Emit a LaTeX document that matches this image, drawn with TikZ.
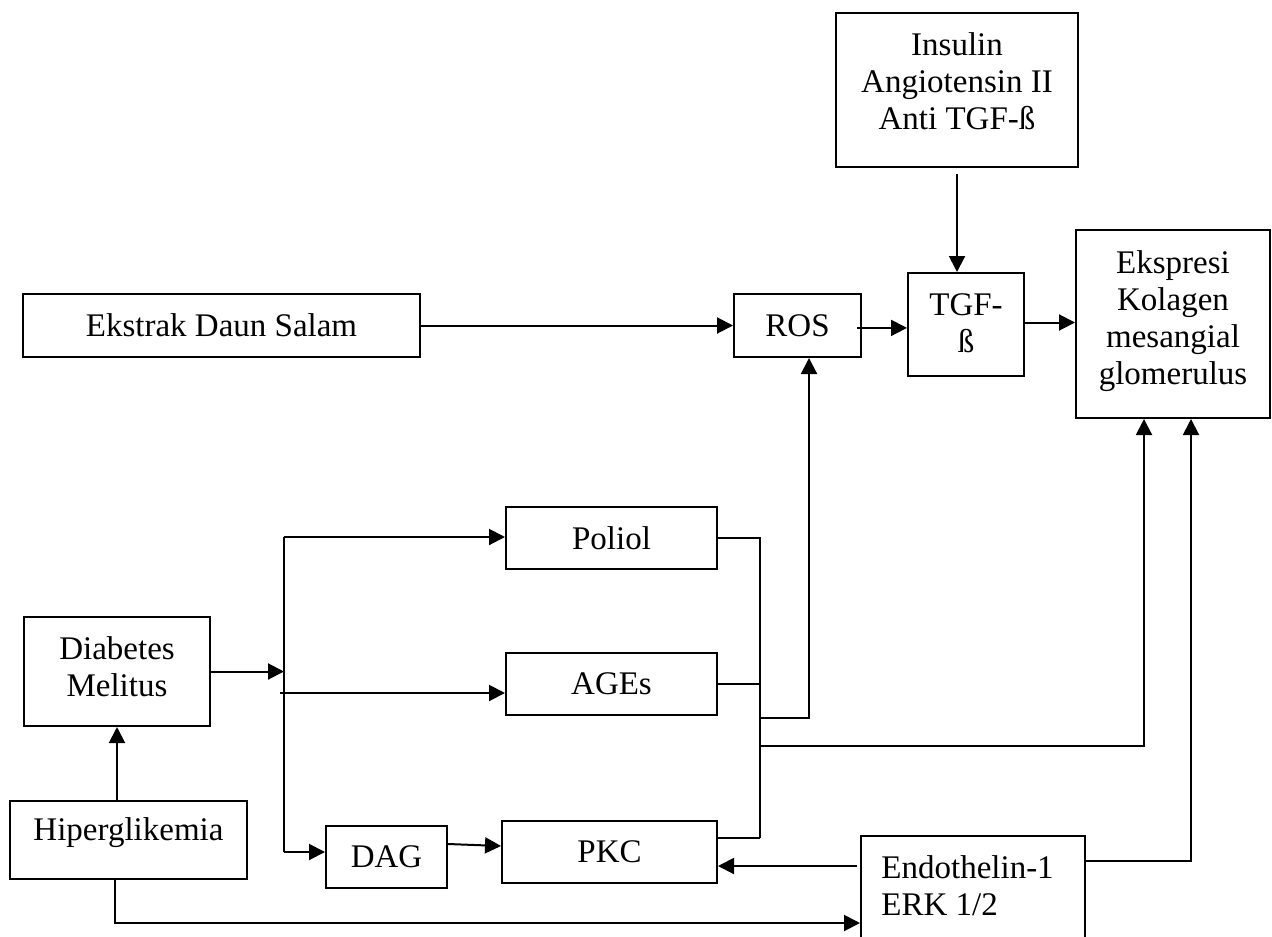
\documentclass[tikz,border=0pt]{standalone}
\usepackage{fontspec}
\setmainfont{Liberation Serif}
\usetikzlibrary{arrows.meta}
\tikzset{
  box/.style={draw, line width=1pt, minimum width=#1, inner sep=0pt},
  txt/.style={font=\fontsize{16.5}{18.6}\selectfont, align=center, inner sep=0pt},
  ln/.style={line width=1pt},
  arr/.style={line width=1pt, -{Triangle[length=8pt,width=8pt]}}
}
\begin{document}
\begin{tikzpicture}[x=0.5pt,y=-0.5pt]
\useasboundingbox (0,0) rectangle (1272,936);
\clip (0,0) rectangle (1272,936);
% boxes
\node[box=121pt, minimum height=77pt] (ins) at (957,90) {};
\node[txt] (inst) at (957,81) {Insulin\\Angiotensin II\\Anti TGF-ß};
\node[box=58pt, minimum height=51.5pt] (tgf) at (966,324.5) {};
\node[txt] (tgft) at (966,323) {TGF-\\ß};
\node[box=63.5pt, minimum height=31.5pt, txt] (ros) at (797.5,325.5) {ROS};
\node[box=97pt, minimum height=94pt] (eks) at (1173,324) {};
\node[txt] (ekst) at (1173,321) {Ekspresi\\Kolagen\\mesangial\\glomerulus};
\node[box=198.5pt, minimum height=31.5pt, txt] (eds) at (221.5,325.5) {Ekstrak Daun Salam};
\node[box=105.5pt, minimum height=31pt, txt] (pol) at (611.5,538) {Poliol};
\node[box=105.5pt, minimum height=31pt, txt] (age) at (611.5,684) {AGEs};
\node[box=107.5pt, minimum height=31pt, txt] (pkc) at (609.5,852) {PKC};
\node[box=60.5pt, minimum height=31pt, txt] (dag) at (386.5,857) {DAG};
\node[box=93pt, minimum height=54.5pt] (dm) at (117,671.5) {};
\node[txt] (dmt) at (117,667) {Diabetes\\Melitus};
\node[box=118.5pt, minimum height=39pt] (hip) at (128.5,840) {};
\node[txt] (hipt) at (128.5,833) {Hiperglikemia};
\node[box=112pt, minimum height=62pt] (end) at (973,898) {};
\node[txt, anchor=west, align=left] (endt) at (881,886) {Endothelin-1\\ERK 1/2};
% coordinates
\coordinate (jtop) at (284,537);
\coordinate (jbot) at (284,852);
\coordinate (aS) at (280,693);
\coordinate (cTop) at (760,538);
\coordinate (cBot) at (760,838);
\coordinate (cA) at (760,684);
\coordinate (rL) at (760,718);
\coordinate (rJ) at (809,718);
\coordinate (eL) at (760,746);
\coordinate (eJ) at (1144,746);
\coordinate (enA) at (857,866);
\coordinate (enB) at (1085,861);
\coordinate (enC) at (1191,861);
\coordinate (hB) at (115,923);
% connectors
\draw[arr] ([yshift=-3pt]ins.south) -- (ins.south |- tgf.north);
\draw[arr] (eds.east) -- (ros.west);
\draw[arr] ([xshift=-2.5pt,yshift=-1.2pt]ros.east) -- ([yshift=-1.2pt]tgf.west |- ros.east);
\draw[arr] ([yshift=1pt]tgf.east) -- ([yshift=1pt]eks.west |- tgf.east);
\draw[arr] (dm.east) -- (dm.east -| jtop);
\draw[ln] (jtop) -- (jbot);
\draw[arr] (jtop) -- (pol.west |- jtop);
\draw[arr] (aS) -- (age.west |- aS);
\draw[arr] (jbot) -- (dag.west |- jbot);
\draw[arr] ([yshift=6.5pt]dag.east) -- ([yshift=3pt]pkc.west);
\draw[ln] (pol.east) -- (cTop) -- (cBot);
\draw[ln] (age.east) -- (cA);
\draw[ln] (pkc.east |- cBot) -- (cBot);
\draw[arr] (rL) -- (rJ) -- (rJ |- ros.south);
\draw[arr] (eL) -- (eJ) -- (eJ |- eks.south);
\draw[arr] (enA) -- (pkc.east |- enA);
\draw[arr] (enB) -- (enC) -- (enC |- eks.south);
\draw[arr] (dm.south |- hip.north) -- (dm.south);
\draw[arr] (hip.south -| hB) -- (hB) -- (hB -| end.west);
\end{tikzpicture}
\end{document}
